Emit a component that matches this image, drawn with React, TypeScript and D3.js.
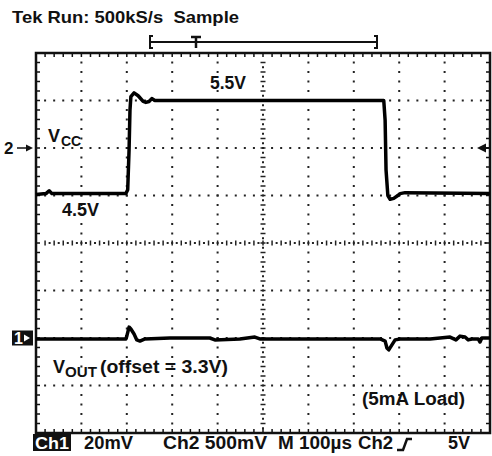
import React, { useEffect, useRef } from "react";
import * as d3 from "d3";

// time in µs, Ch2 (VCC) in volts
const vccTime = [0, 22, 29, 35, 198, 202, 205, 207, 209, 216, 225, 236, 242, 249, 255, 262, 766, 769, 771, 775, 780, 788, 797, 802, 813, 1000];
const vccVolts = [4.51, 4.52, 4.55, 4.52, 4.52, 4.56, 4.98, 5.4, 5.54, 5.58, 5.55, 5.49, 5.48, 5.49, 5.52, 5.5, 5.5, 5.29, 4.77, 4.5, 4.46, 4.47, 4.5, 4.52, 4.53, 4.52];

// Ch1 (VOUT, ac part) in mV
const voutTime = [0, 198, 200, 205, 209, 216, 222, 229, 240, 295, 383, 394, 449, 482, 493, 581, 758, 769, 773, 777, 784, 791, 802, 868, 890, 912, 925, 934, 945, 952, 960, 974, 978, 982, 1000];
const voutMv = [-0.4, -0.4, 0.8, 4.6, 3.8, 1.7, -0.8, -1.3, -0.4, 0, 0, -0.8, -0.4, 0.4, -0.4, -0.4, -0.4, -1.3, -4.2, -5, -2.9, -0.8, -0.4, -0.4, 0, 0.4, -0.8, 0.8, 0.4, -0.8, -0.4, -0.4, -1.7, 0, 0];

const bottomLabels = [
  { t: "20mV", x: 84, w: 49 },
  { t: "Ch2 500mV", x: 163, w: 104 },
  { t: "M 100µs", x: 278, w: 74 },
  { t: "Ch2", x: 358, w: 35 },
  { t: "5V", x: 448, w: 22 },
];

const W = 492;
const H = 456;
const FONT = "'Liberation Sans', Arial, sans-serif";

const Scope = () => {
  const ref = useRef<SVGSVGElement>(null);

  useEffect(() => {
    if (!ref.current) return;
    const svg = d3.select(ref.current);
    svg.selectAll("*").remove();

    const x = d3.scaleLinear().domain([0, 1000]).range([36, 490]);
    const div = d3.scaleLinear().domain([-4, 4]).range([433, 53]);
    const yCh2 = d3.scaleLinear().domain([2, 6]).range([433, 53]);
    const yCh1 = d3.scaleLinear().domain([-40, 120]).range([433, 53]);

    const [x0, x1] = x.range();
    const [yb, yt] = div.range();
    const minorX = (x1 - x0) / 50;
    const minorY = (yb - yt) / 40;

    const g = svg.append("g");

    // dotted graticule
    for (let i = 1; i < 10; i++) {
      if (i === 5) continue;
      const gx = x0 + i * (x1 - x0) / 10;
      for (let k = 1; k < 40; k++) {
        g.append("rect").attr("x", gx - 1).attr("y", yt + k * minorY - 1).attr("width", 2).attr("height", 2).attr("fill", "#222");
      }
    }
    for (let j = -3; j <= 3; j++) {
      if (j === 0) continue;
      const gy = div(j);
      for (let k = 1; k < 50; k++) {
        g.append("rect").attr("x", x0 + k * minorX - 1).attr("y", gy - 1).attr("width", 2).attr("height", 2).attr("fill", "#222");
      }
    }
    // center cross with ticks
    const cx = x(500);
    const cy = div(0);
    for (let k = 1; k < 40; k++) {
      const yy = yt + k * minorY;
      g.append("line").attr("x1", cx - 2.5).attr("x2", cx + 2.5).attr("y1", yy).attr("y2", yy).attr("stroke", "#222").attr("stroke-width", 1.5);
      g.append("rect").attr("x", cx - 1).attr("y", yy + minorY / 2 - 1).attr("width", 2).attr("height", 2).attr("fill", "#222");
    }
    for (let k = 1; k < 50; k++) {
      const xx = x0 + k * minorX;
      g.append("line").attr("y1", cy - 2.5).attr("y2", cy + 2.5).attr("x1", xx).attr("x2", xx).attr("stroke", "#222").attr("stroke-width", 1.5);
      g.append("rect").attr("x", xx + minorX / 2 - 1).attr("y", cy - 1).attr("width", 2).attr("height", 2).attr("fill", "#222");
    }

    // border ticks
    for (let k = 1; k < 50; k++) {
      const xx = x0 + k * minorX;
      g.append("line").attr("x1", xx).attr("x2", xx).attr("y1", yt).attr("y2", yt + 4).attr("stroke", "#111").attr("stroke-width", 1.5);
      g.append("line").attr("x1", xx).attr("x2", xx).attr("y1", yb).attr("y2", yb - 4).attr("stroke", "#111").attr("stroke-width", 1.5);
    }
    for (let k = 1; k < 40; k++) {
      const yy = yt + k * minorY;
      g.append("line").attr("x1", x0).attr("x2", x0 + 4).attr("y1", yy).attr("y2", yy).attr("stroke", "#111").attr("stroke-width", 1.5);
      g.append("line").attr("x1", x1).attr("x2", x1 - 4).attr("y1", yy).attr("y2", yy).attr("stroke", "#111").attr("stroke-width", 1.5);
    }
    g.append("rect").attr("x", x0).attr("y", yt).attr("width", x1 - x0).attr("height", yb - yt)
      .attr("fill", "none").attr("stroke", "#111").attr("stroke-width", 2.5);

    // traces
    const line = d3.line<[number, number]>();
    const vccPts = vccTime.map((t, i) => [x(t), yCh2(vccVolts[i])] as [number, number]);
    const voutPts = voutTime.map((t, i) => [x(t), yCh1(voutMv[i])] as [number, number]);
    svg.append("path").attr("d", line(vccPts)).attr("fill", "none").attr("stroke", "#000").attr("stroke-width", 3.5).attr("stroke-linejoin", "round");
    svg.append("path").attr("d", line(voutPts)).attr("fill", "none").attr("stroke", "#000").attr("stroke-width", 3.5).attr("stroke-linejoin", "round");

    const txt = (s: string, tx: number, ty: number, size: number, fill = "#111", w?: number) => {
      const t = svg.append("text").attr("x", tx).attr("y", ty).attr("font-family", FONT).attr("font-weight", "bold")
        .attr("font-size", size).attr("fill", fill).style("white-space", "pre").text(s);
      if (w) t.attr("textLength", w).attr("lengthAdjust", "spacingAndGlyphs");
      return t;
    };

    // header
    txt("Tek Run: 500kS/s  Sample", 12, 23, 16.5, "#111", 227);
    // record bar
    const rb = svg.append("g").attr("stroke", "#111").attr("stroke-width", 2).attr("fill", "none");
    rb.append("line").attr("x1", 150).attr("x2", 377).attr("y1", 42).attr("y2", 42);
    rb.append("path").attr("d", "M153,36 H150 V48 H153");
    rb.append("path").attr("d", "M374,36 H377 V48 H374");
    rb.append("path").attr("d", "M191,37 H201 M196,37 V48").attr("stroke-width", 2.5);

    // channel markers
    const m2 = yCh2(5);
    txt("2", 4, m2 + 6, 17);
    svg.append("line").attr("x1", 17).attr("x2", 28).attr("y1", m2).attr("y2", m2).attr("stroke", "#111").attr("stroke-width", 1.5);
    svg.append("path").attr("d", `M26,${m2 - 3.5} L33,${m2} L26,${m2 + 3.5} Z`).attr("fill", "#111");
    svg.append("path").attr("d", `M477,${m2} L486,${m2 - 4.5} L486,${m2 + 4.5} Z`).attr("fill", "#111");
    svg.append("line").attr("x1", 484).attr("x2", 490).attr("y1", m2).attr("y2", m2).attr("stroke", "#111").attr("stroke-width", 2);

    const m1 = yCh1(0);
    svg.append("rect").attr("x", 12).attr("y", m1 - 7.5).attr("width", 21).attr("height", 15).attr("fill", "#111");
    txt("1", 14, m1 + 6, 16, "#fff");
    svg.append("path").attr("d", `M24,${m1 - 3.5} L30,${m1} L24,${m1 + 3.5} Z`).attr("fill", "#fff");

    // annotations
    txt("5.5V", 210, 89, 17.5, "#111", 36);
    txt("4.5V", 62, 216, 17.5, "#111", 37);
    txt("V", 48, 142, 18);
    txt("CC", 61, 146, 14);
    txt("V", 53, 373, 18);
    txt("OUT", 65, 377, 14, "#111", 32);
    txt("(offset = 3.3V)", 100, 373, 18, "#111", 128);
    txt("(5mA Load)", 362, 405, 18, "#111", 103);

    // bottom status row
    svg.append("rect").attr("x", 33).attr("y", 434).attr("width", 38).attr("height", 17).attr("fill", "#111");
    txt("Ch1", 35, 449, 17, "#fff", 34);
    bottomLabels.forEach((b) => txt(b.t, b.x, 449, 17.5, "#111", b.w));
    svg.append("path").attr("d", "M397,450 H403 L407,439 H412").attr("fill", "none").attr("stroke", "#111").attr("stroke-width", 2.5);
  }, []);

  return (
    <svg ref={ref} width={W} height={H} style={{ position: "absolute", left: 0, top: 0, background: "#fff" }} />
  );
};

export default function App() {
  return <Scope />;
}
